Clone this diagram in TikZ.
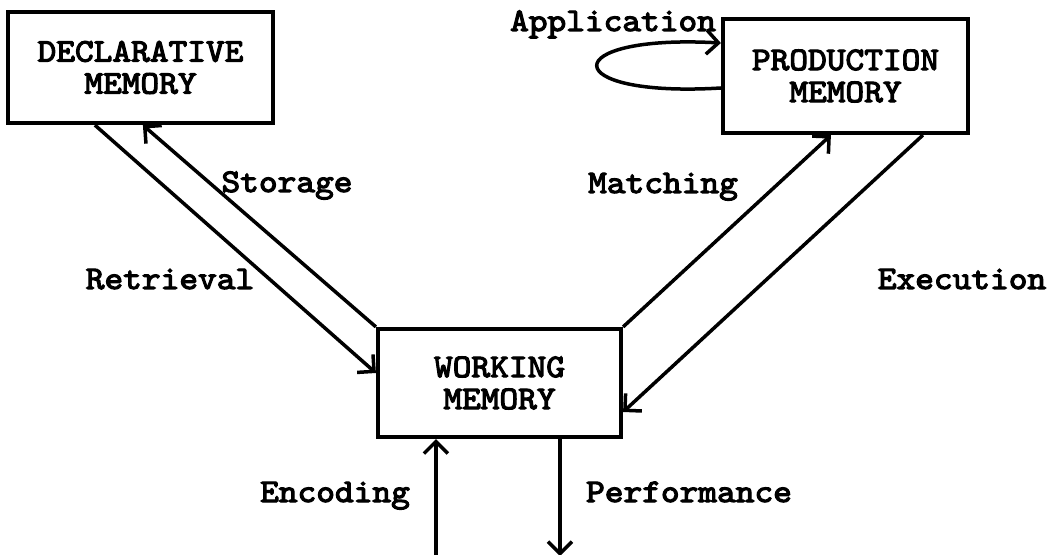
\documentclass[tikz,border=0pt]{standalone}
\usepackage{fontspec}
\newfontfamily\typefont{lmmono10-regular.otf}[FakeBold=3.5,FakeStretch=1.08]
\usetikzlibrary{calc}
\usetikzlibrary{arrows.meta}

\tikzset{
  membox/.style={draw=black,line width=4.2pt,align=center,inner sep=0pt},
  flow/.style={line width=3.5pt,-{Straight Barb[length=12pt,width=24pt,line width=3.5pt]}},
  lbl/.style={inner sep=0pt,anchor=base}
}

\begin{document}
\begin{tikzpicture}[x=1pt,y=1pt,font=\typefont\fontsize{33}{32}\selectfont]
    \useasboundingbox (0,0) rectangle (1056,554);
    % the three memories
    \node[membox,minimum width=265pt,minimum height=111pt] (decl) at (140.5,486.5) {DECLARATIVE\\MEMORY};
    \node[membox,minimum width=245pt,minimum height=114pt] (prod) at (845.5,478) {PRODUCTION\\MEMORY};
    \node[membox,minimum width=243pt,minimum height=108pt] (work) at (499.5,171) {WORKING\\MEMORY};
    \coordinate (In) at ($(work.south west)+(60,-117)$);
    \coordinate (Out) at ($(work.south west)+(184,-117)$);
    % declarative <-> working
    \draw [flow] ($(decl.south west)+(89,0)$)--($(work.west)+(0,10)$);
    \draw [flow] (work.north west)--($(decl.south west)+(137,0)$);
    % working <-> production
    \draw [flow] (work.north east)--($(prod.south west)+(110,0)$);
    \draw [flow] ($(prod.south west)+(202,0)$)--($(work.east)+(0,-29)$);
    % loop back into production memory
    \draw [flow] ($(prod.west)+(0,-12)$) .. controls (556,456) and (556,520) .. ($(prod.west)+(0,33)$);
    % outside world
    \draw [flow] (In)--($(work.south west)+(60,0)$);
    \draw [flow] ($(work.south west)+(184,0)$)--(Out);
    \node[lbl] (storage) at (287,362) {Storage};
    \node[lbl] (retrieval) at (170,265) {Retrieval};
    \node[lbl] (matching) at (663,361) {Matching};
    \node[lbl] (execution) at (962,265) {Execution};
    \node[lbl] (application) at (613,523) {Application};
    \node[lbl] (encoding) at (335,52) {Encoding};
    \node[lbl] (performance) at (689,52) {Performance};
\end{tikzpicture}
\end{document}
